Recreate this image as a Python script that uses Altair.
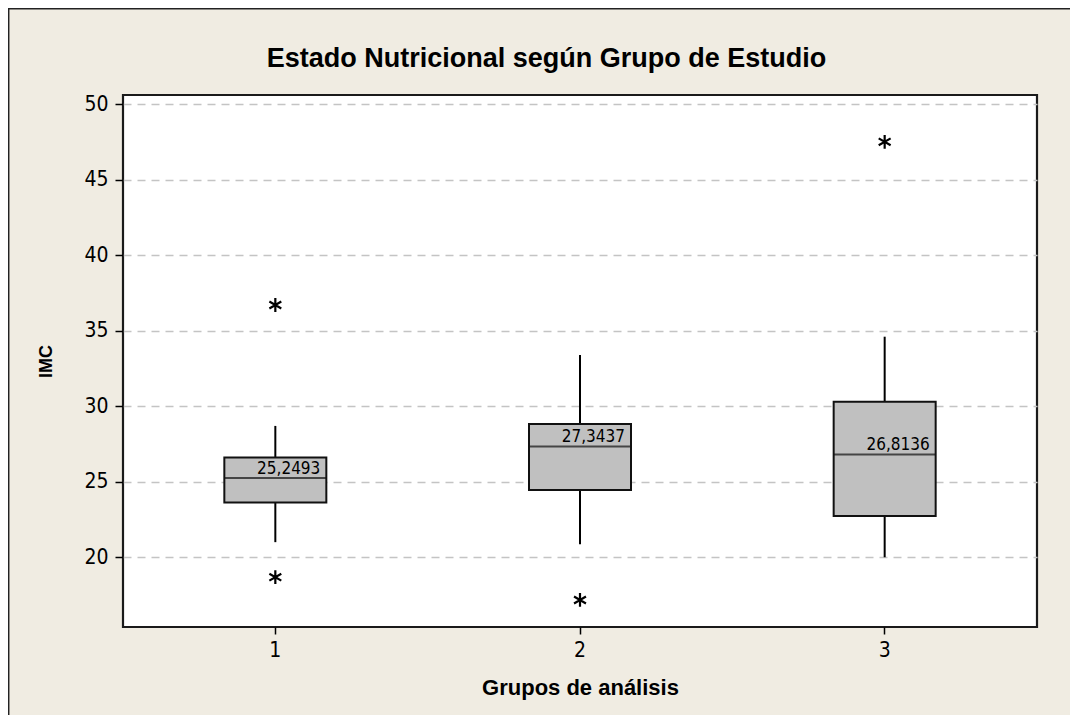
import altair as alt
import pandas as pd

groups = ["1", "2", "3"]
q1 = [23.62, 24.46, 22.74]
medians = [25.2493, 27.3437, 26.8136]
median_labels = ["25,2493", "27,3437", "26,8136"]
q3 = [26.60, 28.83, 30.30]
whisker_lo = [21.00, 20.86, 20.00]
whisker_hi = [28.70, 33.40, 34.61]

outlier_groups = ["1", "1", "2", "3"]
outlier_values = [36.71, 18.68, 17.17, 47.52]

chart_title = ["Estado Nutricional según Grupo de Estudio"]

boxes = pd.DataFrame({
    "grupo": groups, "q1": q1, "med": medians, "lab": median_labels,
    "q3": q3, "lo": whisker_lo, "hi": whisker_hi,
})
outliers = pd.DataFrame({"grupo": outlier_groups, "imc": outlier_values})
titles = pd.DataFrame({"t": chart_title})

TICK_FONT = "'DejaVu Sans Condensed', 'DejaVu Sans', sans-serif"
TITLE_FONT = "'Liberation Sans', Arial, sans-serif"
BG = "#F0ECE2"

x_enc = alt.X(
    "grupo:O",
    scale=alt.Scale(type="band", domain=groups, paddingInner=0, paddingOuter=0),
    axis=alt.Axis(
        title="Grupos de análisis", labelAngle=0, labelFont=TICK_FONT, labelFontSize=21,
        labelColor="black", labelPadding=5, tickSize=7, tickWidth=1.5, tickColor="black",
        domain=False, grid=False, titleFont=TITLE_FONT, titleFontSize=22,
        titleFontWeight="bold", titleColor="black", titlePadding=17,
    ),
)

y_scale = alt.Scale(domain=[15.38, 50.62], nice=False, zero=False)
y_axis = alt.Axis(
    title="IMC", values=[20, 25, 30, 35, 40, 45, 50], labelFont=TICK_FONT,
    labelFontSize=21, labelColor="black", labelPadding=7, tickSize=8, tickWidth=1.5,
    tickColor="black", domain=False, grid=True, gridColor="#C4C4C4", gridWidth=1.5,
    gridDash=[8, 6], titleFont=TITLE_FONT, titleFontSize=18, titleFontWeight="bold",
    titleColor="black", titlePadding=28,
)

base = alt.Chart(boxes)

whisk_top = base.mark_rule(color="black", strokeWidth=2).encode(
    x=x_enc, y=alt.Y("q3:Q", scale=y_scale, axis=y_axis), y2="hi:Q")
whisk_bot = base.mark_rule(color="black", strokeWidth=2).encode(
    x=x_enc, y=alt.Y("lo:Q", scale=y_scale), y2="q1:Q")
box = base.mark_bar(size=102, color="#C0C0C0", stroke="#111111", strokeWidth=2).encode(
    x=x_enc, y=alt.Y("q1:Q", scale=y_scale), y2="q3:Q")
med = base.mark_tick(size=102, thickness=2, color="#111111", orient="horizontal").encode(
    x=x_enc, y=alt.Y("med:Q", scale=y_scale))
lab = base.mark_text(align="right", baseline="alphabetic", dx=45, dy=-4,
                     font=TICK_FONT, fontSize=17, color="black").encode(
    x=x_enc, y=alt.Y("med:Q", scale=y_scale), text="lab:N")

asterisk = "M0,-1L0,1M-0.866,-0.5L0.866,0.5M-0.866,0.5L0.866,-0.5"
pts = alt.Chart(outliers).mark_point(shape=asterisk, size=190, filled=False,
                                     stroke="black", strokeWidth=2.2, opacity=1).encode(
    x=x_enc, y=alt.Y("imc:Q", scale=y_scale))

title_mark = alt.Chart(titles).mark_text(
    font=TITLE_FONT, fontSize=27, fontWeight="bold", color="black",
    align="center", baseline="alphabetic",
).encode(x=alt.value(423.5), y=alt.value(-28), text="t:N")

frame_left = alt.Chart(titles).mark_rule(color="#222222", strokeWidth=1.5).encode(
    x=alt.value(-114.3), y=alt.value(-87), y2=alt.value(620))
frame_top = alt.Chart(titles).mark_rule(color="#222222", strokeWidth=1.5).encode(
    x=alt.value(-115), x2=alt.value(947), y=alt.value(-86.3))

chart = alt.layer(whisk_top, whisk_bot, box, med, lab, pts, title_mark,
                  frame_left, frame_top).properties(
    width=914, height=532,
    autosize=alt.AutoSizeParams(type="none"),
    padding={"left": 115, "top": 87, "right": 33, "bottom": 88},
    background=BG,
).configure_view(
    fill="white", stroke="#1A1A1A", strokeWidth=2.2,
)

chart.save("out.html", embed_options={"renderer": "svg", "actions": False})
